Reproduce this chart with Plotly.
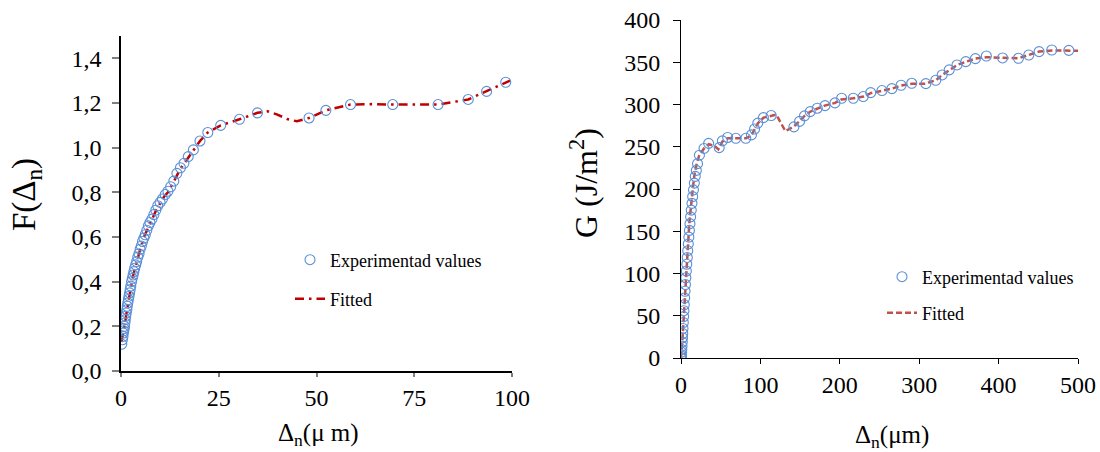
import plotly.graph_objects as go

# ---------------- Left chart data: F(Δn) ----------------
left_exp_x = [0.2, 0.35, 0.5, 0.6, 0.7, 0.8, 0.9, 1.0, 1.1, 1.2, 1.35, 1.5, 1.6, 1.75, 1.9,
              2.05, 2.2, 2.35, 2.5, 2.7, 2.9, 3.1, 3.3, 3.5, 3.75, 4.0, 4.3, 4.6, 4.9, 5.2,
              5.5, 5.85, 6.2, 6.6, 7.0, 7.4, 7.9, 8.4, 8.9, 9.4, 10.0, 10.6, 11.3, 12.0, 12.7,
              13.5, 14.3, 15.2, 16.1, 17.2, 18.5, 20.2, 22.2, 25.5, 30.3, 34.9, 48.1, 52.4,
              58.7, 69.5, 81.1, 88.8, 93.5, 98.4]
left_exp_y = [0.12, 0.14, 0.155, 0.17, 0.18, 0.19, 0.20, 0.215, 0.23, 0.245, 0.26, 0.275, 0.29,
              0.305, 0.32, 0.335, 0.35, 0.365, 0.38, 0.40, 0.415, 0.43, 0.445, 0.46, 0.475,
              0.49, 0.51, 0.525, 0.545, 0.56, 0.58, 0.595, 0.61, 0.63, 0.65, 0.665, 0.68, 0.70,
              0.72, 0.74, 0.755, 0.77, 0.79, 0.805, 0.825, 0.85, 0.885, 0.91, 0.93, 0.96, 0.99,
              1.03, 1.068, 1.10, 1.127, 1.156, 1.133, 1.167, 1.193, 1.193, 1.193, 1.216, 1.252,
              1.293]

left_fit_x = [0.1, 0.5, 1.0, 1.5, 2.0, 2.5, 3.0, 3.5, 4.0, 5.0, 6.0, 7.0, 8.0, 9.0, 10.0,
              11.0, 12.0, 13.0, 14.0, 15.0, 16.0, 17.0, 18.5, 20.2, 22.2, 25.5, 30.3, 34.9,
              37.5, 40.0, 42.5, 45.0, 48.1, 52.4, 58.7, 64.0, 69.5, 75.0, 81.1, 88.8, 93.5,
              98.4, 99.5]
left_fit_y = [0.13, 0.16, 0.21, 0.27, 0.325, 0.375, 0.42, 0.455, 0.49, 0.55, 0.605, 0.645,
              0.685, 0.72, 0.75, 0.78, 0.80, 0.83, 0.865, 0.90, 0.925, 0.95, 0.985, 1.03,
              1.068, 1.10, 1.127, 1.156, 1.163, 1.148, 1.128, 1.118, 1.133, 1.167, 1.193,
              1.195, 1.193, 1.193, 1.193, 1.216, 1.252, 1.293, 1.30]

left_yticks = [0.0, 0.2, 0.4, 0.6, 0.8, 1.0, 1.2, 1.4]
left_xticks = [0, 25, 50, 75, 100]
left_xtitle = "Δ<sub>n</sub>(μ m)"
left_ytitle = "F(Δ<sub>n</sub>)"

# ---------------- Right chart data: G (J/m²) ----------------
right_exp_x = [0.2, 0.4, 0.6, 0.8, 1.0, 1.3, 1.6, 1.9, 2.2, 2.5, 2.9, 3.3, 3.7, 4.1, 4.6,
               5.1, 5.6, 6.1, 6.7, 7.3, 7.9, 8.5, 9.2, 9.9, 10.6, 11.3, 12.1, 12.9, 13.8,
               14.7, 15.7, 16.8, 18.0, 19.3, 20.8, 23.2, 29.0, 34.8, 48.1, 52.1, 58.8, 69.1,
               81.6, 88.7, 92.7, 96.7, 103.8, 113.6, 142.2, 149.3, 155.5, 162.7, 171.6,
               181.4, 193.9, 202.3, 217.0, 229.5, 238.9, 253.1, 265.6, 277.2, 290.6, 308.4,
               320.9, 328.9, 337.8, 347.6, 358.7, 370.8, 384.6, 405.0, 425.0, 438.0, 451.0,
               467.0, 488.4]
right_exp_y = [0, 2, 4, 7, 10, 14, 19, 24, 29, 35, 42, 49, 56, 63, 71, 79, 87, 95, 103, 111,
               119, 127, 135, 143, 151, 159, 167, 175, 183, 191, 199, 207, 215, 222, 230,
               240, 248, 254, 249, 257, 261, 260, 260, 264, 271, 278, 284.5, 287, 273.5,
               280, 286.5, 291.6, 295.6, 298.7, 301.9, 307.4, 307.4, 309.4, 314.1, 316.5,
               318.8, 322.8, 325.1, 324.7, 328.7, 335, 341, 346.8, 350.7, 354.3, 357.4, 355.1,
               354.7, 358.6, 362.6, 364.5, 364.1]

right_fit_x = [0.0, 0.5, 1.0, 2.0, 3.0, 4.0, 5.0, 6.0, 7.0, 8.0, 9.0, 10.0, 11.0, 12.0, 13.0,
               14.0, 15.0, 16.0, 17.0, 18.0, 20.0, 23.0, 29.0, 35.0, 42.0, 47.0, 52.0, 59.0,
               69.0, 82.0, 89.0, 93.0, 97.0, 104.0, 114.0, 120.0, 131.5, 142.0, 149.0,
               155.5, 163.0, 172.0, 181.0, 194.0, 202.0, 217.0, 230.0, 239.0, 253.0, 266.0,
               277.0, 291.0, 308.0, 321.0, 329.0, 338.0, 348.0, 359.0, 371.0, 385.0, 405.0,
               425.0, 438.0, 451.0, 467.0, 488.0, 500.0]
right_fit_y = [0, 5, 10, 24, 40, 58, 76, 93, 109, 124, 139, 152, 165, 176, 186, 195, 203,
               210, 217, 223, 231, 240, 248, 253, 251, 247, 256, 260, 260, 260, 264, 271,
               278, 284.5, 287, 288, 268.4, 274, 280, 286.5, 291.6, 295.6, 298.7, 301.9,
               306, 307.4, 309.4, 313.5, 316.5, 318.8, 322.5, 324.5, 324.7, 328.7, 335, 341,
               346.8, 350.7, 354.3, 356, 355, 354.7, 358.6, 362.6, 364, 364, 363.5]

right_yticks = [0, 50, 100, 150, 200, 250, 300, 350, 400]
right_xticks = [0, 100, 200, 300, 400, 500]
right_xtitle = "Δ<sub>n</sub>(μm)"
right_ytitle = "G (J/m<sup>2</sup>)"

W, H = 1100, 452
FONT = "Liberation Serif, Times New Roman, serif"
MARK_COLOR = "#5b8fd6"

fig = go.Figure()

# Left traces
fig.add_trace(go.Scatter(
    x=left_fit_x, y=left_fit_y, mode="lines", name="Fitted",
    line=dict(color="#c00000", width=2.5, dash="9px,5px,2.5px,5px"),
    xaxis="x", yaxis="y", legend="legend3"))
fig.add_trace(go.Scatter(
    x=left_exp_x, y=left_exp_y, mode="markers", name="Experimentad values",
    marker=dict(symbol="circle-open", size=10, color=MARK_COLOR, line=dict(width=1.1)),
    xaxis="x", yaxis="y", legend="legend2"))

# Right traces
fig.add_trace(go.Scatter(
    x=right_fit_x, y=right_fit_y, mode="lines", name="Fitted",
    line=dict(color="#c0504d", width=2.5, dash="6px,3px"),
    xaxis="x2", yaxis="y2", legend="legend5"))
fig.add_trace(go.Scatter(
    x=right_exp_x, y=right_exp_y, mode="markers", name="Experimentad values",
    marker=dict(symbol="circle-open", size=10, color=MARK_COLOR, line=dict(width=1.1)),
    xaxis="x2", yaxis="y2", legend="legend4"))


def px_x(p):
    return p / W


def px_y(p):
    return (H - p) / H


tickfont = dict(family=FONT, size=24, color="black")
leg_common = dict(font=dict(family=FONT, size=18, color="black"),
                  bgcolor="rgba(0,0,0,0)", borderwidth=0,
                  xanchor="left", yanchor="middle")

axis_common = dict(showgrid=False, zeroline=False, showline=True, linecolor="black",
                   ticks="outside", tickfont=tickfont, automargin=False)

fig.update_layout(
    width=W, height=H,
    margin=dict(l=0, r=0, t=0, b=0),
    paper_bgcolor="white", plot_bgcolor="white",
    separators=", ",
    showlegend=True,
    font=dict(family=FONT, color="black"),
    xaxis=dict(domain=[px_x(121), px_x(512)], range=[0, 100], tickvals=left_xticks,
               linewidth=1.5, ticklen=4, tickcolor="#7f7f7f", tickwidth=1.5,
               anchor="y", **axis_common),
    yaxis=dict(domain=[px_y(371), px_y(36)], range=[0, 1.5], tickvals=left_yticks,
               tickformat=".1f", ticklabelstandoff=6,
               linewidth=1.5, ticklen=7, tickcolor="#7f7f7f", tickwidth=1.5,
               anchor="x", **axis_common),
    xaxis2=dict(domain=[px_x(681), px_x(1078)], range=[0, 500], tickvals=right_xticks,
                linewidth=1, ticklen=5, tickcolor="black", tickwidth=1,
                anchor="y2", **axis_common),
    yaxis2=dict(domain=[px_y(358), px_y(20)], range=[0, 400], tickvals=right_yticks,
                ticklabelstandoff=8,
                linewidth=1, ticklen=7, tickcolor="black", tickwidth=1,
                anchor="x2", **axis_common),
    legend2=dict(x=px_x(290), y=px_y(260), **leg_common),
    legend3=dict(x=px_x(290), y=px_y(299), **leg_common),
    legend4=dict(x=px_x(882), y=px_y(277), **leg_common),
    legend5=dict(x=px_x(882), y=px_y(313), **leg_common),
)

# Axis titles placed as text in paper coordinates
titles = [
    (left_ytitle, 27, 195, -90, 33),
    (right_ytitle, 584, 183, -90, 32),
    (left_xtitle, 318, 434, 0, 25),
    (right_xtitle, 892, 436, 0, 25),
]
for text, px, py, ang, size in titles:
    fig.add_annotation(text=text, x=px_x(px), y=px_y(py), xref="paper", yref="paper",
                       xanchor="center", yanchor="middle", showarrow=False, textangle=ang,
                       font=dict(family=FONT, size=size, color="black"))

# Remove the default page margin so the 1100x452 figure fills the window exactly
fig.write_html("out.html", config={"displayModeBar": False},
               post_script="document.body.style.margin='0';")
